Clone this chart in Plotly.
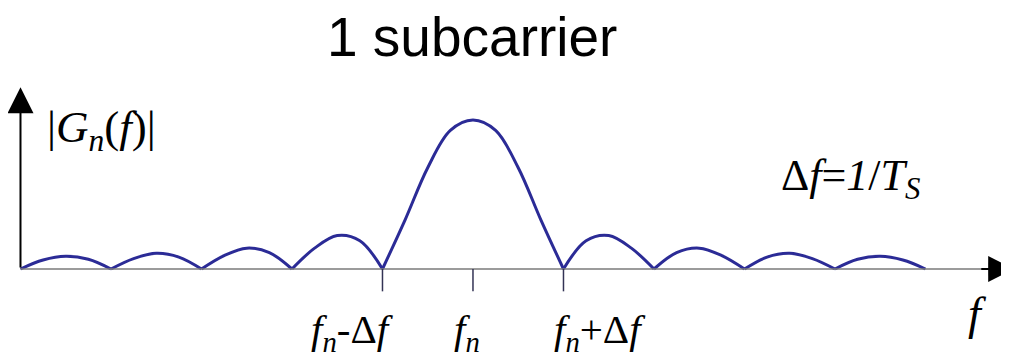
import plotly.graph_objects as go

# frequency offset from f_n in units of delta f, and |G_n(f)| normalised to the peak
offsets = [-5, -4.75, -4.5, -4.25, -4, -3.75, -3.5, -3.25, -3, -2.75, -2.5, -2.25,
           -2, -1.75, -1.5, -1.25, -1, -0.75, -0.5, -0.25, 0, 0.25, 0.5, 0.75,
           1, 1.25, 1.5, 1.75, 2, 2.25, 2.5, 2.75, 3, 3.25, 3.5, 3.75, 4, 4.25,
           4.5, 4.75, 5]
magnitude = [0, 0.06, 0.085, 0.065, 0, 0.07, 0.105, 0.08, 0, 0.09, 0.14, 0.11,
             0, 0.14, 0.225, 0.19, 0, 0.33, 0.68, 0.93, 1.0, 0.93, 0.68, 0.33,
             0, 0.19, 0.225, 0.14, 0, 0.11, 0.14, 0.09, 0, 0.08, 0.105, 0.07,
             0, 0.065, 0.085, 0.06, 0]

tick_pos = [-1, 0, 1]
tick_text = ["<i>f</i><sub><i>n</i></sub>-Δ<i>f</i>",
             "<i>f</i><sub><i>n</i></sub>",
             "<i>f</i><sub><i>n</i></sub>+Δ<i>f</i>"]
tick_label_x = [-1.33, -0.07, 1.40]

serif = "Liberation Serif, Times New Roman, serif"

# break the curve at each zero so every lobe is smoothed on its own (keeps the cusps)
xs, ys = [], []
for i, (u, g) in enumerate(zip(offsets, magnitude)):
    xs.append(u)
    ys.append(g)
    if g == 0 and 0 < i < len(offsets) - 1:
        xs += [None, u]
        ys += [None, g]

fig = go.Figure()
fig.add_trace(go.Scatter(x=xs, y=ys, mode="lines", line=dict(color="#2b2b96", width=3, shape="spline"),
                         connectgaps=False, hoverinfo="skip"))

x0 = offsets[0]
shapes = [dict(type="line", x0=x0, x1=5.8, y0=0, y1=0, line=dict(color="#7a7a7a", width=1.5))]
for t in tick_pos:
    shapes.append(dict(type="line", x0=t, x1=t, y0=0, y1=-0.15, line=dict(color="#333355", width=1.5)))

annotations = [
    # axis arrows
    dict(x=5.98, y=0, ax=5.6, ay=0, xref="x", yref="y", axref="x", ayref="y", text="",
         showarrow=True, arrowhead=2, arrowsize=2.6, arrowwidth=2, arrowcolor="black"),
    dict(x=x0, y=1.22, ax=x0, ay=0, xref="x", yref="y", axref="x", ayref="y", text="",
         showarrow=True, arrowhead=2, arrowsize=2.6, arrowwidth=2, arrowcolor="black"),
    dict(x=0.4635, y=0.918, xref="paper", yref="paper", yanchor="middle", text="1 subcarrier",
         showarrow=False, font=dict(family="Liberation Sans, Arial, sans-serif", size=55, color="black")),
    dict(x=-4.11, y=0.93, text="|<i>G</i><sub><i>n</i></sub>(<i>f</i>)|", showarrow=False,
         font=dict(family=serif, size=45, color="black")),
    dict(x=4.17, y=0.61, text="Δ<i>f</i>=<i>1</i>/<i>T</i><sub><i>S</i></sub>", showarrow=False,
         font=dict(family=serif, size=44, color="black")),
    dict(x=5.58, y=-0.30, text="<i>f</i>", showarrow=False,
         font=dict(family=serif, size=46, color="black")),
]
for lx, txt in zip(tick_label_x, tick_text):
    annotations.append(dict(x=lx, y=-0.42, text=txt, showarrow=False,
                            font=dict(family=serif, size=41, color="black")))

# the page body adds an 8px margin, so the figure is 8px smaller than the window
fig.update_layout(
    width=1001, height=355,
    margin=dict(l=0, r=0, t=0, b=0),
    paper_bgcolor="white", plot_bgcolor="white",
    showlegend=False,
    xaxis=dict(range=[-5.138, 5.923], visible=False, fixedrange=True),
    yaxis=dict(range=[-0.631, 1.752], visible=False, fixedrange=True),
    shapes=shapes,
    annotations=annotations,
)

fig.write_html("out.html")
